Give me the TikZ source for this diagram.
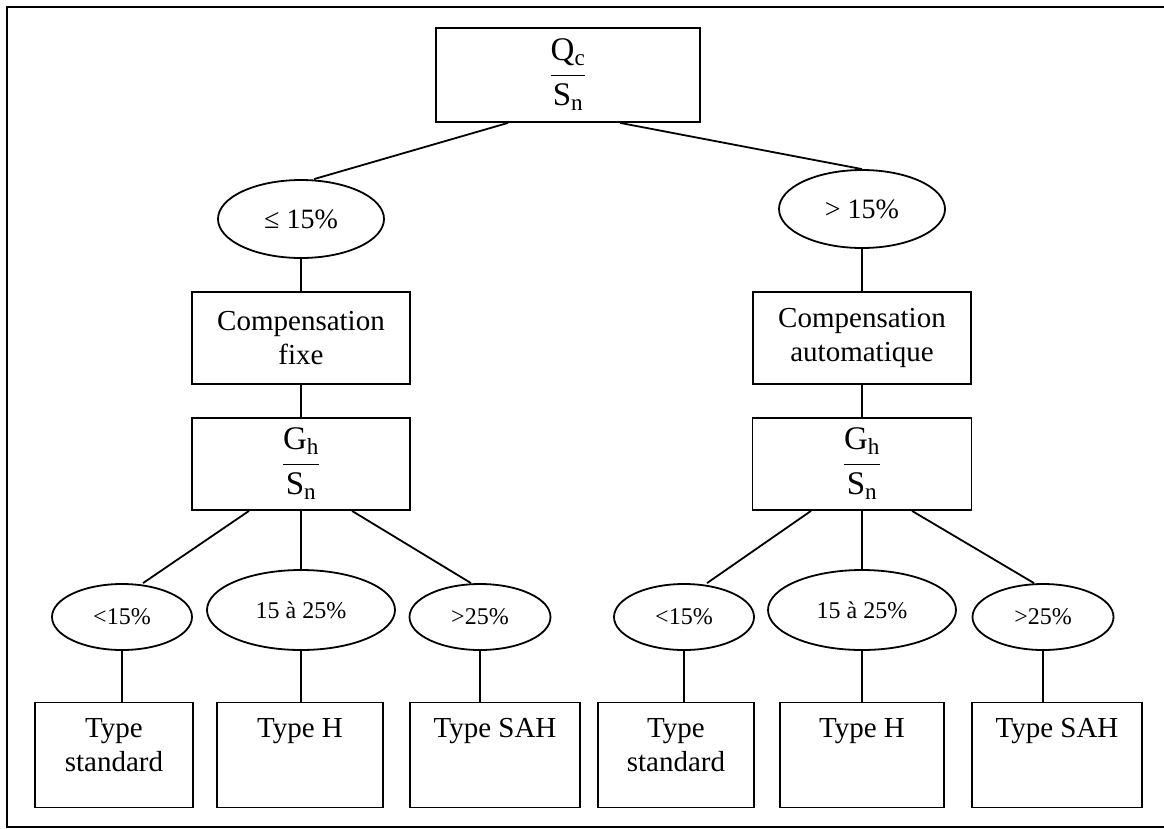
\RequirePackage{fix-cm}
\documentclass[tikz,border=0pt]{standalone}
\usepackage{fontspec}
\setmainfont{Liberation Serif}
\usetikzlibrary{shapes.geometric}

\newcommand{\toptext}[1]{\parbox[c][105pt][t]{150pt}{\centering\rule{0pt}{35pt}#1}}
\newcommand{\ratiofrac}[2]{$\displaystyle\frac{\mathrm{#1}}{\mathrm{#2}}$}

\begin{document}
\begin{tikzpicture}[x=1pt,y=-1pt,line width=1.8pt,
  box/.style={draw,rectangle,inner sep=0pt,align=center,font=\fontsize{29}{34}\selectfont},
  typebox/.style={draw,rectangle,inner sep=0pt,font=\fontsize{29}{34}\selectfont,minimum height=105pt},
  ratio/.style={draw,rectangle,inner sep=0pt,font=\fontsize{33}{38}\selectfont},
  cond/.style={draw,ellipse,inner sep=0pt,font=\fontsize{24}{28}\selectfont}]
\useasboundingbox (0,0) rectangle (1164,828);
\draw[line width=2.8pt] (7,7) rectangle (1175,827);

\node[ratio,minimum width=264pt,minimum height=94pt] (qc) at (568,75) {\ratiofrac{Q_c}{S_n}};

\node[cond,minimum width=166pt,minimum height=78pt,font=\fontsize{28}{32}\selectfont] (le) at (301,219) {≤ 15\%};
\node[cond,minimum width=166pt,minimum height=78pt,font=\fontsize{28}{32}\selectfont] (re) at (862,209) {> 15\%};

\node[box,minimum width=218pt,minimum height=92pt] (cf) at (301,338) {Compensation\\fixe};
\node[box,minimum width=218pt,minimum height=92pt] (ca) at (862,338) {Compensation\\automatique};

\node[ratio,minimum width=218pt,minimum height=92pt] (gl) at (301,464) {\ratiofrac{G_h}{S_n}};
\node[ratio,minimum width=219pt,minimum height=92pt] (gr) at (862,464) {\ratiofrac{G_h}{S_n}};

\node[cond,minimum width=140pt,minimum height=66pt] (e1) at (122,617) {<15\%};
\node[cond,minimum width=188pt,minimum height=80pt] (e2) at (301,610) {15 à 25\%};
\node[cond,minimum width=141pt,minimum height=66pt] (e3) at (480,617) {>25\%};
\node[cond,minimum width=140pt,minimum height=66pt] (e4) at (684,617) {<15\%};
\node[cond,minimum width=188pt,minimum height=80pt] (e5) at (862,610) {15 à 25\%};
\node[cond,minimum width=141pt,minimum height=66pt] (e6) at (1043,617) {>25\%};

\node[typebox,minimum width=158pt] (t1) at (114,755) {\toptext{Type\\standard}};
\node[typebox,minimum width=166pt] (t2) at (300,755) {\toptext{Type H}};
\node[typebox,minimum width=170pt] (t3) at (495,755) {\toptext{Type SAH}};
\node[typebox,minimum width=156pt] (t4) at (676,755) {\toptext{Type\\standard}};
\node[typebox,minimum width=164pt] (t5) at (862,755) {\toptext{Type H}};
\node[typebox,minimum width=170pt] (t6) at (1057,755) {\toptext{Type SAH}};

\draw ([xshift=-60pt]qc.south) -- ([xshift=13pt]le.north);
\draw ([xshift=52pt]qc.south) -- (re.north);
\draw (le) -- (cf);
\draw (cf) -- (gl);
\draw (re) -- (ca);
\draw (ca) -- (gr);

\draw ([xshift=-52pt]gl.south) -- ([xshift=21pt]e1.north);
\draw (gl) -- (e2);
\draw ([xshift=51pt]gl.south) -- ([xshift=-9pt]e3.north);
\draw ([xshift=-51pt]gr.south) -- ([xshift=23pt]e4.north);
\draw (gr) -- (e5);
\draw ([xshift=50pt]gr.south) -- ([xshift=-9pt]e6.north);

\foreach \e/\t in {e1/t1,e2/t2,e3/t3,e4/t4,e5/t5,e6/t6}
  \draw (\e.south) -- (\e.south |- \t.north);
\end{tikzpicture}
\end{document}
